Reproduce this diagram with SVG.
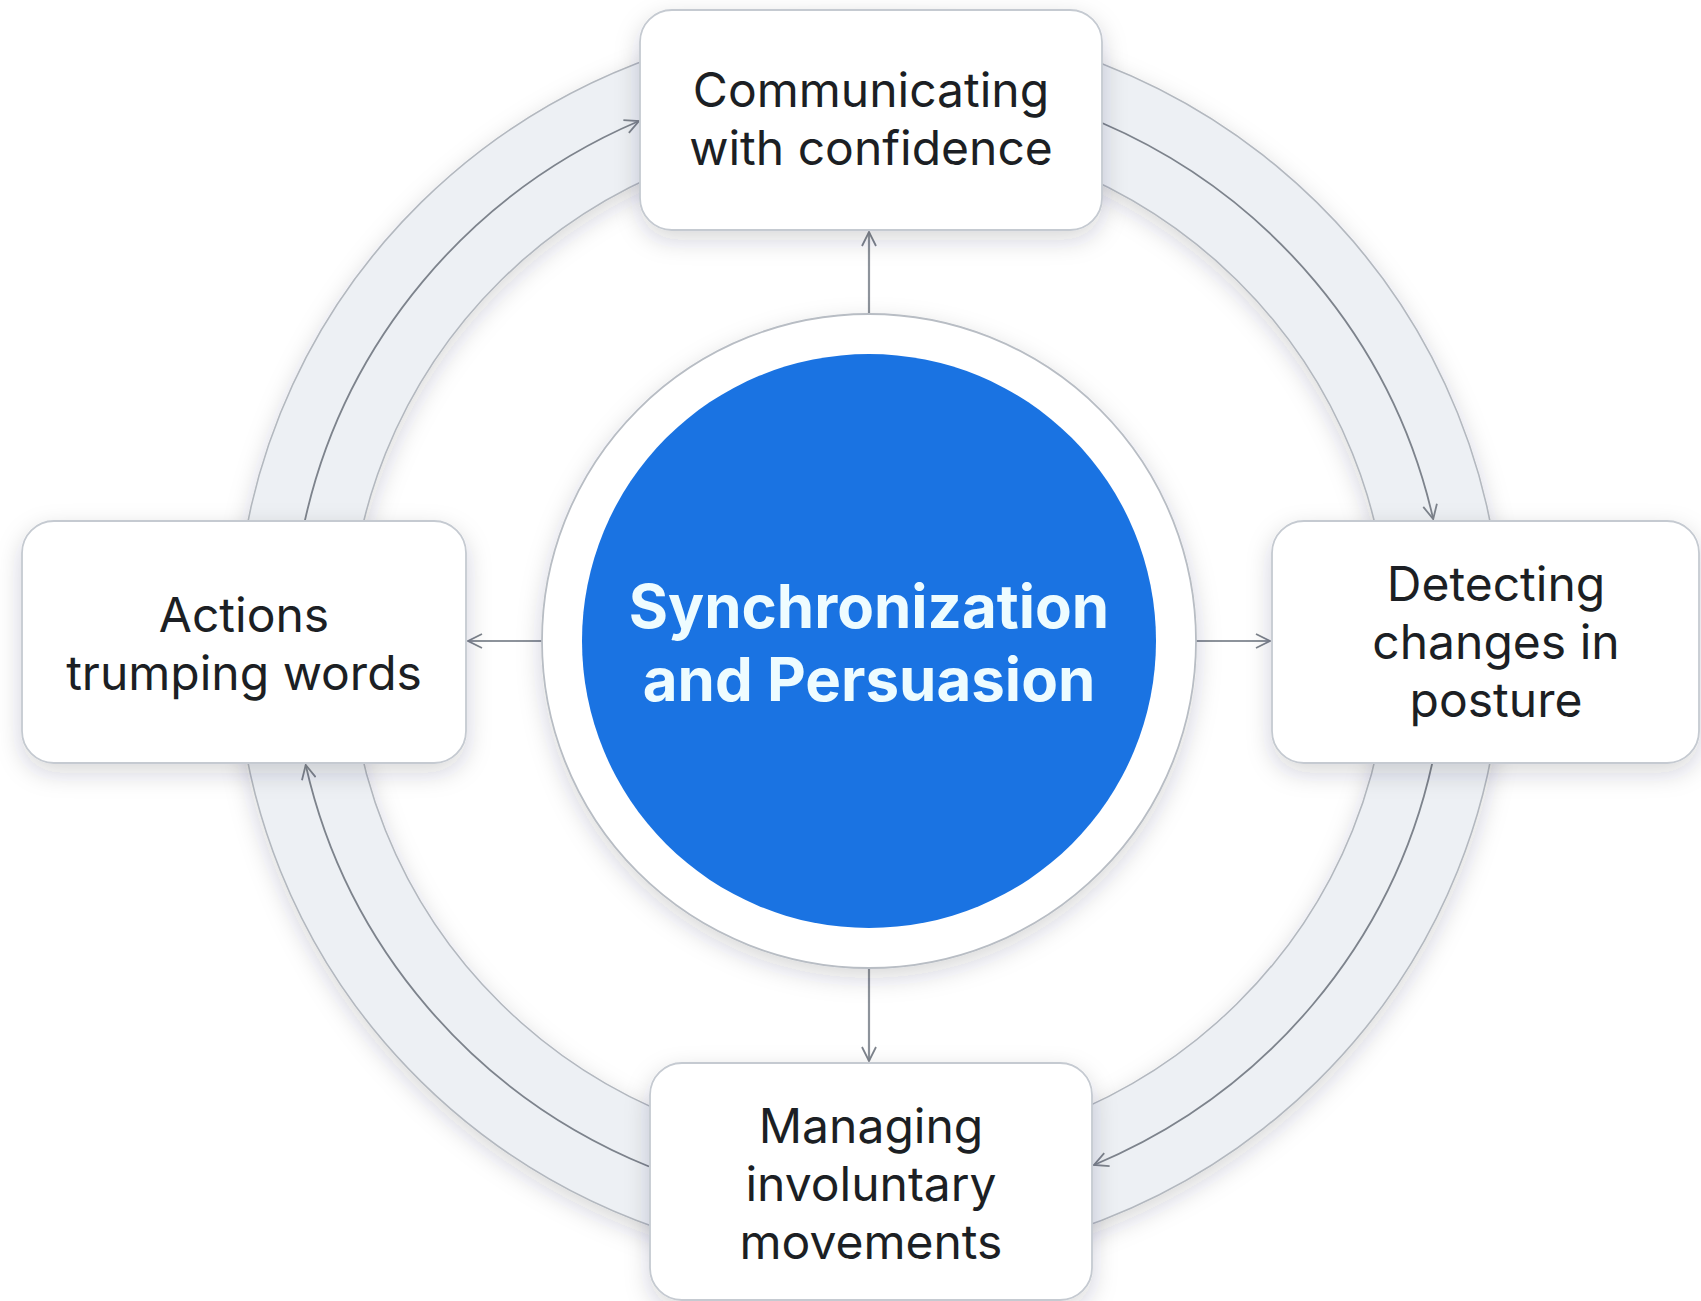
<svg xmlns="http://www.w3.org/2000/svg" width="1701" height="1301" viewBox="0 0 1701 1301">
<style>
.box{fill:#ffffff;stroke:#c5cad1;stroke-width:1.8;filter:url(#sh)}
.lbl{font-family:Inter,"Liberation Sans",sans-serif;font-size:48px;fill:#1c1f24;text-anchor:middle}
.ctr{font-family:Inter,"Liberation Sans",sans-serif;font-size:60px;font-weight:700;fill:#eefcff;text-anchor:middle}
.arc{fill:none;stroke:#7d838c;stroke-width:1.8}
.con{fill:none;stroke:#8d939b;stroke-width:2.2}
</style>
<defs>
<filter id="sh" x="-20%" y="-20%" width="140%" height="150%">
<feDropShadow dx="0" dy="9" stdDeviation="12" flood-color="#1e2a3a" flood-opacity="0.18"/>
</filter>
<marker id="ah" viewBox="0 0 16 16" refX="15" refY="8" markerWidth="16" markerHeight="16" markerUnits="userSpaceOnUse" orient="auto">
<path d="M1,1 L15,8 L1,15" fill="none" stroke="#7d838c" stroke-width="1.8"/>
</marker>
</defs>
<rect width="1701" height="1301" fill="#ffffff"/>
<g id="ring">
<path d="M236,642 A633,622 0 1,0 1502,642 A633,622 0 1,0 236,642 Z M349,642 A520,512 0 1,1 1389,642 A520,512 0 1,1 349,642 Z" fill="#edf0f4" fill-rule="evenodd" stroke="#b3b8bf" stroke-width="1.6" filter="url(#sh)"/>
</g>
<g id="connectors">
<path class="arc" d="M304.8,521 A577,568 0 0,1 639,121" marker-end="url(#ah)"/>
<path class="arc" d="M1101,122.5 A577,568 0 0,1 1433.2,519" marker-end="url(#ah)"/>
<path class="arc" d="M1432.3,763 A577,568 0 0,1 1094,1165" marker-end="url(#ah)"/>
<path class="arc" d="M649,1166.5 A577,568 0 0,1 305.7,765" marker-end="url(#ah)"/>
<path class="con" d="M869,314 L869,232" marker-end="url(#ah)"/>
<path class="con" d="M869,968 L869,1061" marker-end="url(#ah)"/>
<path class="con" d="M542,641 L468,641" marker-end="url(#ah)"/>
<path class="con" d="M1196,641 L1270,641" marker-end="url(#ah)"/>
</g>
<g id="center">
<circle cx="869" cy="641" r="327" fill="#ffffff" stroke="#b8bdc4" stroke-width="1.8" filter="url(#sh)"/>
<circle cx="869" cy="641" r="287" fill="#1a73e2"/>
<text class="ctr" x="869" y="628">Synchronization</text>
<text class="ctr" x="869" y="701">and Persuasion</text>
</g>
<g id="n-top">
<rect class="box" x="640" y="10" width="462" height="220" rx="32"/>
<text class="lbl" x="871" y="107">Communicating</text>
<text class="lbl" x="871" y="165">with confidence</text>
</g>
<g id="n-left">
<rect class="box" x="22" y="521" width="444" height="242" rx="32"/>
<text class="lbl" x="244" y="632">Actions</text>
<text class="lbl" x="244" y="690">trumping words</text>
</g>
<g id="n-right">
<rect class="box" x="1272" y="521" width="427" height="242" rx="32"/>
<text class="lbl" x="1496" y="601">Detecting</text>
<text class="lbl" x="1496" y="659">changes in</text>
<text class="lbl" x="1496" y="717">posture</text>
</g>
<g id="n-bottom">
<rect class="box" x="650" y="1063" width="442" height="237" rx="32"/>
<text class="lbl" x="871" y="1143">Managing</text>
<text class="lbl" x="871" y="1201">involuntary</text>
<text class="lbl" x="871" y="1259">movements</text>
</g>
</svg>
